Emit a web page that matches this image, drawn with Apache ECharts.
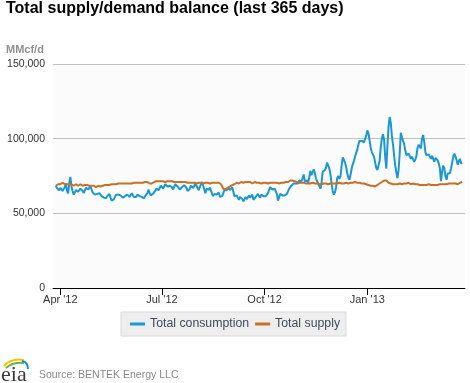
<!DOCTYPE html>
<html>
<head>
<meta charset="utf-8">
<script src="https://cdn.jsdelivr.net/npm/echarts@6/dist/echarts.min.js"></script>
<style>
html,body{margin:0;padding:0;background:#fff;}
#c{width:470px;height:383px;}
</style>
</head>
<body>
<div id="c"></div>
<script>
// ---- Data (MMcf/d), one value per day starting 2012-03-28 ----
var startDate = [2012, 2, 28];
var seriesNames = ['Total consumption', 'Total supply'];
var consumption = [
68500,67000,66500,65500,67000,68000,65000,64400,67500,70000,
65000,63300,70000,74400,68000,65000,62500,63500,65500,65000,
64500,64500,66500,67000,65000,63500,65500,67000,66500,66000,
66500,68000,66000,64000,63000,62500,62200,63000,63500,63500,
62500,61500,61000,60500,60500,60000,61500,62500,63000,60500,
58500,57800,59500,61000,62500,63300,62500,62000,62000,61000,
60500,60500,61500,62500,62500,61500,61000,61500,63500,63000,
61000,60000,61000,62500,62000,61500,61500,61000,60500,60000,
61500,62500,63500,66000,63500,62000,62500,63000,64000,65000,
66500,67500,65500,66500,68500,67500,66500,67500,69500,69000,
68000,68000,68500,68900,67500,66000,66500,69500,69000,68000,
67800,66000,66000,67500,68500,68900,69000,67000,65000,64500,
66500,68500,68500,67000,68500,70000,69000,67000,65500,67500,
69500,71000,68500,66000,63500,66500,66000,65800,67300,66000,
63000,61500,63000,64000,62500,63000,64000,61000,60000,61500,
63500,65500,66500,65500,67000,67000,65800,66500,67500,64500,
61500,60500,62000,60500,59000,61000,60500,59500,58000,59500,
61000,59500,60500,62000,60500,61000,62500,59000,60000,61000,
61500,63000,62000,60500,62500,62500,61500,62000,61500,60500,
63500,65500,67500,67000,66000,65500,66500,65500,63000,58500,
59500,63000,62500,62000,61500,62000,62500,63000,64000,66500,
67800,68500,69000,70000,69000,70000,70500,70000,72000,73000,
71500,73500,76000,71500,71500,72000,70500,74000,78500,75500,
77500,79500,77000,73500,71500,70000,68900,66500,70500,77800,
78000,79000,80500,84000,84000,80000,76000,70000,65000,62500,
64000,67500,73500,75000,73000,75000,82000,87500,86000,84000,
81000,77000,74000,72500,76000,80000,83000,85000,88000,90500,
92500,96000,98500,97500,98500,99000,97500,98500,102000,105500,
103500,99000,94000,91000,89500,88000,84000,80500,79000,79500,
85000,94000,100000,103000,99500,88000,80000,95000,108000,114500,
110500,102000,96000,89000,82000,77500,73500,79000,90000,104000,
101000,98500,96500,92000,89000,88000,90000,90500,86500,88000,
88500,84500,86000,88500,94000,96000,96000,93500,100000,102500,
97800,91000,89000,90000,89500,88000,86500,88500,88000,84500,
87000,86500,85500,83500,80000,71500,78000,82000,80000,75000,
72500,76500,76000,77000,80000,84000,88000,90000,88000,85500,
82500,85000,86500,83500,84000
];
var supply = [
68500,69000,69500,70000,69500,70000,70500,69500,69500,70000,
69500,70000,69500,69000,69500,69000,68500,69000,69500,69000,
68500,69000,69500,69000,68500,69000,69000,68500,69000,68500,
68500,68000,68500,68000,68500,68000,67500,68000,68500,68000,
68000,68500,68500,69000,69000,68500,69000,69500,69000,69500,
69500,69000,69500,70000,69500,70000,70000,69500,70000,70500,
70000,70500,70000,69500,70000,70500,70000,70500,70000,70500,
70500,70000,70500,70000,70500,70000,70500,71000,70500,71000,
71000,71500,71000,70500,70000,69500,70000,70500,71000,71500,
71500,71000,71500,72000,71500,71000,71500,71500,71000,71500,
71500,71000,71500,71000,71500,71000,71000,70500,71000,71000,
71000,70500,71000,71500,71000,70500,71000,70500,70500,71000,
70500,71000,70500,71000,70500,70500,70000,70500,70500,70000,
70500,70500,70000,70500,70500,70000,70500,70500,70000,70500,
70500,70000,70500,70000,70500,70000,70500,70000,69500,68500,
66500,66000,66000,66500,67000,67500,68000,68500,69000,69500,
69500,70000,70500,70500,70000,70500,71000,70500,70500,71000,
71000,70500,71000,70500,71000,70500,70000,70500,71000,70500,
70500,70000,70500,70500,70000,70500,70500,70000,70500,70500,
70000,70500,70500,70000,70500,70500,70500,71000,70500,70500,
70000,70500,70500,71000,70500,70500,71000,71500,71000,71500,
72000,72500,72000,71500,71500,71000,71000,70500,70500,70000,
70500,70000,70500,70500,70000,70500,70000,70500,70000,70000,
70500,70000,70000,69500,70000,70000,69500,70000,69500,70000,
70000,69500,70000,70000,69500,70000,70000,70500,70000,70000,
70000,70500,70000,70000,70500,70000,70000,70500,70000,70000,
70500,70000,70000,70500,70500,70000,70500,70500,71000,70500,
70500,70000,70500,70000,70000,70500,70000,69500,69500,69000,
69000,68500,68500,68000,68500,68000,68000,68500,69000,69500,
70000,70500,71000,71500,72000,72500,72000,71000,70500,70000,
70000,69500,69500,70000,69500,70000,69500,69500,70000,70000,
69500,70000,70000,69500,70000,70000,70500,70000,69500,70000,
70000,69500,69500,70000,69500,69500,69000,69500,69000,69500,
69000,69500,69000,69000,69500,69000,69000,68500,69000,69000,
69000,69500,69000,69500,69500,70000,69500,70000,69500,70000,
69500,70000,70000,69500,70000,70500,70000,69500,70000,70000,
69500,70000,70500,71000,71000
];
var tickDates = [[2012,3,1],[2012,6,1],[2012,9,1],[2013,0,1]];
var tickLabels = ["Apr '12", "Jul '12", "Oct '12", "Jan '13"];
var yTicks = [0, 50000, 100000, 150000];

// ---- Build ----
var DAY = 86400000;
var t0 = new Date(startDate[0], startDate[1], startDate[2]).getTime();
function dayTs(i){ var d = new Date(startDate[0], startDate[1], startDate[2] + i); return d.getTime(); }
var consData = consumption.map(function(v,i){ return [dayTs(i), v]; });
var supData = supply.map(function(v,i){ return [dayTs(i), v]; });
var tickTs = tickDates.map(function(a){ return new Date(a[0],a[1],a[2]).getTime(); });

var chart = echarts.init(document.getElementById('c'), null, {renderer:'canvas'});
var option = {
  animation: false,
  backgroundColor: '#ffffff',
  textStyle: {fontFamily: 'Arial, "Liberation Sans", sans-serif'},
  title: {
    text: 'Total supply/demand balance (last 365 days)',
    left: 6, top: 1, padding: 0,
    textStyle: {fontSize: 16, fontWeight: 'bold', color: '#000000', fontFamily: 'Arial, "Liberation Sans", sans-serif'}
  },
  grid: {left: 53, right: 5, top: 64, bottom: 95, show: true, backgroundColor: '#fbfbfb', borderWidth: 0},
  legend: {
    data: seriesNames,
    left: 121, top: 312,
    padding: [6, 6, 6, 9],
    itemGap: 6,
    itemWidth: 15, itemHeight: 3,
    icon: 'rect',
    backgroundColor: '#eeeeee',
    borderColor: '#dadada', borderWidth: 1,
    textStyle: {color: '#3e4d5c', fontSize: 12.3, fontFamily: 'Arial, "Liberation Sans", sans-serif'}
  },
  xAxis: {
    type: 'value',
    min: t0 - 2.54 * DAY,
    max: t0 + 366.5 * DAY,
    axisLine: {show: true, onZero: false, lineStyle: {color: '#000000', width: 1}},
    axisTick: {show: true, length: 7, lineStyle: {color: '#000000'}, customValues: tickTs},
    axisLabel: {
      customValues: tickTs,
      margin: 6,
      color: '#333333', fontSize: 11,
      formatter: function(val){
        for (var i = 0; i < tickTs.length; i++) { if (Math.abs(tickTs[i] - val) < DAY/2) return tickLabels[i]; }
        return '';
      }
    },
    splitLine: {show: false}
  },
  yAxis: {
    type: 'value',
    min: yTicks[0], max: yTicks[yTicks.length-1], interval: 50000,
    axisLine: {show: false},
    axisTick: {show: false},
    axisLabel: {color: '#333333', fontSize: 10.5, margin: 8},
    splitLine: {show: true, lineStyle: {color: '#c0c0c0', width: 1}}
  },
  series: [
    {name: seriesNames[0], type: 'line', data: consData, symbol: 'none', showSymbol: false,
     lineStyle: {color: '#1a97d5', width: 2}, itemStyle: {color: '#1a97d5'}},
    {name: seriesNames[1], type: 'line', data: supData, symbol: 'none', showSymbol: false,
     lineStyle: {color: '#c77027', width: 2}, itemStyle: {color: '#c77027'}}
  ],
  graphic: [
    {type: 'text', left: 6, top: 44, style: {text: 'MMcf/d', fill: '#909090', font: 'bold 11px Arial, "Liberation Sans", sans-serif'}},
    {type: 'text', left: 39, top: 370, style: {text: 'Source: BENTEK Energy LLC', fill: '#888888', font: '10.5px Arial, "Liberation Sans", sans-serif'}},
    {type: 'text', left: 1, top: 364, style: {text: 'eia', fill: '#3a3a3a', font: '22px "Liberation Serif", "DejaVu Serif", serif'}},
    {type: 'bezierCurve', shape: {x1: 4, y1: 366, cpx1: 11, cpy1: 358, x2: 24, y2: 360}, style: {stroke: '#f2c500', lineWidth: 2, fill: null}},
    {type: 'bezierCurve', shape: {x1: 6, y1: 368, cpx1: 13, cpy1: 362, x2: 24, y2: 363}, style: {stroke: '#6cb33f', lineWidth: 2, fill: null}},
    {type: 'bezierCurve', shape: {x1: 22, y1: 361, cpx1: 28, cpy1: 362, x2: 28, y2: 369}, style: {stroke: '#1a8fd0', lineWidth: 2, fill: null}}
  ]
};
chart.setOption(option);
</script>
</body>
</html>
